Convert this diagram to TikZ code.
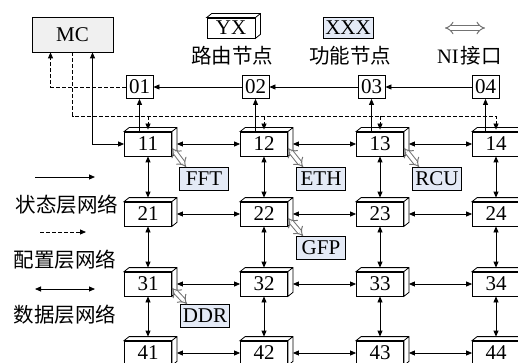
\documentclass[tikz,border=0pt]{standalone}
\usepackage{fontspec}
\setmainfont{Liberation Serif}
\newfontfamily\cjk{Noto Sans CJK SC}
\usetikzlibrary{arrows.meta}
\definecolor{mcgray}{RGB}{240,240,240}
\definecolor{funcblue}{RGB}{228,234,246}

\begin{document}
\begin{tikzpicture}[x=1pt, y=-1pt, line width=0.8pt,
  >={Triangle[length=6pt,width=5pt]},
  txt/.style={font=\fontsize{21}{24}\selectfont, inner sep=0pt},
  zh/.style={font=\cjk\fontsize{20.5}{24}\selectfont, inner sep=0pt},
  router/.style={draw, fill=white, txt, minimum width=47pt, minimum height=24pt,
    append after command={\pgfextra{\draw[fill=white] (\tikzlastnode.north west) -- ([shift={(5,-4)}]\tikzlastnode.north west) -- ([shift={(5,-4)}]\tikzlastnode.north east) -- ([shift={(5,-4)}]\tikzlastnode.south east) -- (\tikzlastnode.south east) -- (\tikzlastnode.north east) -- cycle (\tikzlastnode.north east) -- ([shift={(5,-4)}]\tikzlastnode.north east);}}},
  tapbox/.style={draw, fill=white, txt, minimum width=27pt, minimum height=23pt},
  func/.style={draw, fill=funcblue, txt, minimum width=49pt, minimum height=23pt},
  cfgline/.style={dash pattern=on 4pt off 2pt},
  niarrow/.style={draw=gray!90!black, double=white, double distance=3.4pt, line width=1pt, {Implies}-{Implies}}]
  \useasboundingbox (0,0) rectangle (518,363);
  \clip (0,0) rectangle (518,363);
  \node[draw, fill=mcgray, txt, minimum width=81pt, minimum height=35pt] (mc) at (72.5,34.5) {MC};
  \node[router, minimum width=48pt, minimum height=20pt] (yx) at (231,28) {YX};
  \node[zh] (yxlab) at (232,56) {路由节点};
  \node[func, minimum width=50pt, minimum height=21pt] (xxx) at (348,27.5) {XXX};
  \node[zh] (xxxlab) at (350,56) {功能节点};
  \coordinate (nia) at (445,28);
  \coordinate (nib) at (485,28);
  \node[zh] (nilab) at (469.5,56) {\textrm{NI}\kern2pt 接口};
  \node[tapbox] (n01) at (139.5,87) {01};
  \node[tapbox] (n02) at (255.5,87) {02};
  \node[tapbox] (n03) at (371.5,87) {03};
  \node[tapbox] (n04) at (485.5,87) {04};
  \node[router] (n11) at (148,144) {11};
  \node[router] (n12) at (264,144) {12};
  \node[router] (n13) at (380,144) {13};
  \node[router] (n14) at (496,144) {14};
  \node[router] (n21) at (148,214) {21};
  \node[router] (n22) at (264,214) {22};
  \node[router] (n23) at (380,214) {23};
  \node[router] (n24) at (496,214) {24};
  \node[router] (n31) at (148,284) {31};
  \node[router] (n32) at (264,284) {32};
  \node[router] (n33) at (380,284) {33};
  \node[router] (n34) at (496,284) {34};
  \node[router] (n41) at (148,353) {41};
  \node[router] (n42) at (264,353) {42};
  \node[router] (n43) at (380,353) {43};
  \node[router] (n44) at (496,353) {44};
  \node[func] (fft) at (204,179) {FFT};
  \node[func] (eth) at (321,179) {ETH};
  \node[func] (rcu) at (437,179) {RCU};
  \node[func] (gfp) at (321,248) {GFP};
  \node[func] (ddr) at (205,316) {DDR};
  \coordinate (st1) at (35,177);
  \coordinate (st2) at (95,177);
  \node[zh] (stlab) at (67,205) {状态层网络};
  \coordinate (cf1) at (40,232);
  \coordinate (cf2) at (86,232);
  \node[zh] (cflab) at (65,260) {配置层网络};
  \coordinate (dt1) at (35,289);
  \coordinate (dt2) at (95,289);
  \node[zh] (dtlab) at (65,315) {数据层网络};
  \coordinate (cfg) at (0,116);
  \draw[niarrow] (nia) -- (nib);
  \draw[->] (st1) -- (st2);
  \draw[cfgline,->] (cf1) -- (cf2);
  \draw[<->] (dt1) -- (dt2);
  \draw[->] (n04) -- (n03);
  \draw[->] (n03) -- (n02);
  \draw[->] (n02) -- (n01);
  \draw[->] (n11.north -| n01) -- (n01);
  \draw[->] (n12.north -| n02) -- (n02);
  \draw[->] (n13.north -| n03) -- (n03);
  \draw[->] (n14.north -| n04) -- (n04);
  \draw[cfgline,->] (mc.south) |- (n14.north |- cfg) -- ([yshift=2pt]n14.north);
  \draw[cfgline,->] (n11.north |- cfg) -- ([yshift=2pt]n11.north);
  \draw[cfgline,->] (n12.north |- cfg) -- ([yshift=2pt]n12.north);
  \draw[cfgline,->] (n13.north |- cfg) -- ([yshift=2pt]n13.north);
  \draw[cfgline,->] (n01) -| ([xshift=-22pt]mc.south);
  \draw[<->] ([xshift=20pt]mc.south) |- (n11);
  \draw[<->] ([xshift=5pt]n11.east) -- (n12.west);
  \draw[<->] ([xshift=5pt]n12.east) -- (n13.west);
  \draw[<->] ([xshift=5pt]n13.east) -- (n14.west);
  \draw[<->] ([xshift=5pt]n21.east) -- (n22.west);
  \draw[<->] ([xshift=5pt]n22.east) -- (n23.west);
  \draw[<->] ([xshift=5pt]n23.east) -- (n24.west);
  \draw[<->] ([xshift=5pt]n31.east) -- (n32.west);
  \draw[<->] ([xshift=5pt]n32.east) -- (n33.west);
  \draw[<->] ([xshift=5pt]n33.east) -- (n34.west);
  \draw[<->] ([xshift=5pt]n41.east) -- (n42.west);
  \draw[<->] ([xshift=5pt]n42.east) -- (n43.west);
  \draw[<->] ([xshift=5pt]n43.east) -- (n44.west);
  \draw[<->] (n11.south) -- ([yshift=4pt]n21.north);
  \draw[<->] (n12.south) -- ([yshift=4pt]n22.north);
  \draw[<->] (n13.south) -- ([yshift=4pt]n23.north);
  \draw[<->] (n14.south) -- ([yshift=4pt]n24.north);
  \draw[<->] (n21.south) -- ([yshift=4pt]n31.north);
  \draw[<->] (n22.south) -- ([yshift=4pt]n32.north);
  \draw[<->] (n23.south) -- ([yshift=4pt]n33.north);
  \draw[<->] (n24.south) -- ([yshift=4pt]n34.north);
  \draw[<->] (n31.south) -- ([yshift=4pt]n41.north);
  \draw[<->] (n32.south) -- ([yshift=4pt]n42.north);
  \draw[<->] (n33.south) -- ([yshift=4pt]n43.north);
  \draw[<->] (n34.south) -- ([yshift=4pt]n44.north);
  \draw[niarrow] ([yshift=-4pt]n11.east) -- ([xshift=7pt]fft.north west);
  \draw[niarrow] ([yshift=-4pt]n12.east) -- ([xshift=7pt]eth.north west);
  \draw[niarrow] ([yshift=-4pt]n13.east) -- ([xshift=7pt]rcu.north west);
  \draw[niarrow] ([yshift=-4pt]n22.east) -- ([xshift=7pt]gfp.north west);
  \draw[niarrow] ([yshift=-4pt]n31.east) -- ([xshift=7pt]ddr.north west);
\end{tikzpicture}
\end{document}
